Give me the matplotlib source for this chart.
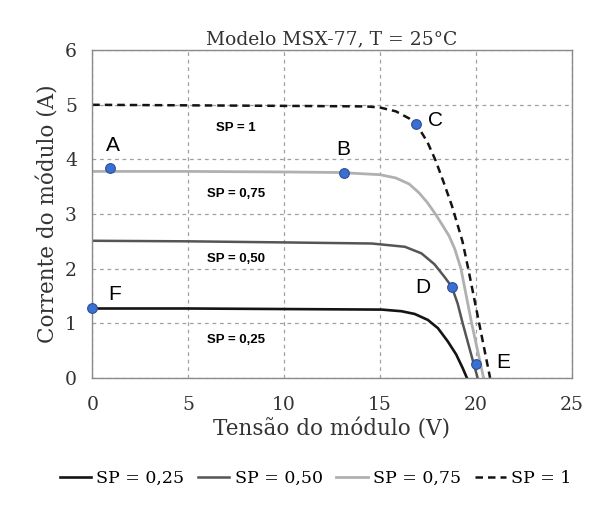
import numpy as np
import matplotlib
matplotlib.use("Agg")
import matplotlib.pyplot as plt

# ---- curve data (V, I) ----
v_sp025 = [0, 5, 10, 15.09, 16.12, 16.81, 17.5, 18.02, 18.53, 18.97, 19.31, 19.53]
i_sp025 = [1.27, 1.27, 1.26, 1.25, 1.22, 1.17, 1.06, 0.91, 0.67, 0.43, 0.18, 0.0]

v_sp050 = [0, 5, 10, 14.57, 16.3, 17.16, 17.84, 18.36, 18.74, 19.05, 19.31, 19.83, 20.09]
i_sp050 = [2.51, 2.50, 2.48, 2.46, 2.40, 2.28, 2.08, 1.85, 1.67, 1.36, 1.0, 0.33, 0.0]

v_sp075 = [0, 5, 10, 12.9, 15.0, 15.83, 16.52, 17.03, 17.47, 17.85, 18.25, 18.6, 18.9, 19.22, 19.78, 20.1, 20.4]
i_sp075 = [3.78, 3.78, 3.77, 3.76, 3.72, 3.66, 3.55, 3.39, 3.21, 3.02, 2.80, 2.60, 2.36, 2.0, 1.0, 0.48, 0.0]

v_sp100 = [0, 5, 10, 14.28, 15.0, 15.83, 16.52, 17.03, 17.47, 17.9, 18.33, 18.76, 19.3, 19.6, 20.17, 20.74]
i_sp100 = [5.0, 4.99, 4.98, 4.97, 4.95, 4.88, 4.75, 4.57, 4.32, 3.98, 3.57, 3.14, 2.5, 2.0, 1.0, 0.0]

pt_names = ["A", "B", "C", "D", "E", "F"]
pt_v = [0.95, 13.1, 16.9, 18.74, 20.0, 0.0]
pt_i = [3.84, 3.76, 4.65, 1.67, 0.26, 1.27]
lab_v = [1.05, 13.1, 17.9, 17.25, 21.45, 1.15]
lab_i = [4.26, 4.19, 4.72, 1.66, 0.29, 1.52]

sp_text = ["SP = 1", "SP = 0,75", "SP = 0,50", "SP = 0,25"]
sp_v = [7.5, 7.5, 7.5, 7.5]
sp_i = [4.57, 3.36, 2.18, 0.70]

SERIF = "DejaVu Serif"
TXT = "#333333"

fig = plt.figure(figsize=(6.07, 5.12), dpi=100)
ax = fig.add_axes([0.152, 0.262, 0.790, 0.640])

h1, = ax.plot(v_sp025, i_sp025, color="#141414", lw=1.9, label="SP = 0,25")
h2, = ax.plot(v_sp050, i_sp050, color="#555555", lw=1.8, label="SP = 0,50")
h3, = ax.plot(v_sp075, i_sp075, color="#b0b0b0", lw=2.0, label="SP = 0,75")
h4, = ax.plot(v_sp100, i_sp100, color="#141414", lw=1.8, ls=(0, (3, 2)), label="SP = 1")

ax.plot(pt_v, pt_i, "o", ms=7, color="#3b6fd0", mec="#2a4f9a", mew=0.8,
        zorder=5, clip_on=False)
for n, x, y in zip(pt_names, lab_v, lab_i):
    ax.text(x, y, n, fontsize=15, family="Liberation Sans", ha="center", va="center")
for t, x, y in zip(sp_text, sp_v, sp_i):
    ax.text(x, y, t, fontsize=9.5, fontweight="bold", family="Liberation Sans",
            ha="center", va="center")

ax.set_xlim(0, 25)
ax.set_ylim(0, 6)
ax.set_xticks([0, 5, 10, 15, 20, 25])
ax.set_yticks([0, 1, 2, 3, 4, 5, 6])
ax.grid(True, color="#a0a0a0", ls=(0, (3, 3)), lw=0.9)
ax.tick_params(length=0, labelsize=13.5)
ax.tick_params(axis="x", pad=13)
ax.tick_params(axis="y", pad=11)
for lbl in ax.get_xticklabels() + ax.get_yticklabels():
    lbl.set_family(SERIF)
    lbl.set_color(TXT)
for s in ax.spines.values():
    s.set_color("#8a8a8a")
    s.set_linewidth(1.0)

ax.set_title("Modelo MSX-77, T = 25°C", fontsize=13.5, family=SERIF, color=TXT, pad=4)
ax.set_xlabel("Tensão do módulo (V)", fontsize=15.5, family=SERIF, color=TXT, labelpad=3)
ax.set_ylabel("Corrente do módulo (A)", fontsize=15.5, family=SERIF, color=TXT, labelpad=4)

fig.legend(handles=[h1, h2, h3, h4], loc="center", bbox_to_anchor=(0.52, 0.066),
           ncol=4, frameon=False, handlelength=1.8, handletextpad=0.3,
           columnspacing=0.8, prop={"family": SERIF, "size": 12.5})

fig.savefig("out.png", dpi=100, facecolor="white")
